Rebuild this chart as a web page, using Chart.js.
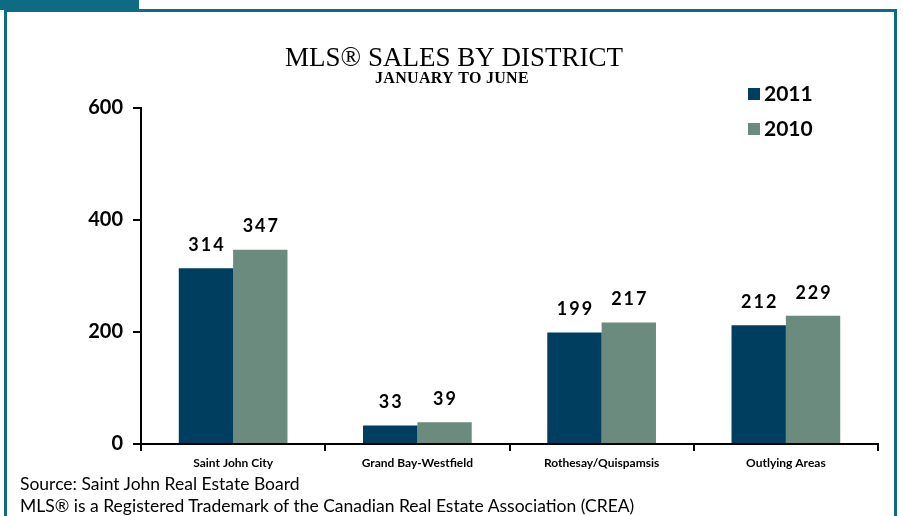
<!DOCTYPE html>
<html>
<head>
<meta charset="utf-8">
<script src="https://cdn.jsdelivr.net/npm/chart.js@4"></script>
<style>
  body { margin: 0; background: #fff; }
  #wrap { position: relative; width: 903px; height: 516px; overflow: hidden; }
  #tab { position: absolute; left: 0; top: 0; width: 139px; height: 10px; background: #0f6a84; }
  #frame { position: absolute; left: 4px; top: 9px; width: 893px; height: 520px;
           border: 3px solid #0f6a84; box-sizing: border-box; }
  canvas { position: absolute; left: 0; top: 0; }
  .foot { position: absolute; left: 20px; font-family: Lato, sans-serif; font-size: 17.5px; color: #000; }
</style>
</head>
<body>
<div id="wrap">
  <div id="tab"></div>
  <div id="frame"></div>
  <canvas id="chart" width="903" height="516"></canvas>
  <div class="foot" style="top:473px">Source: Saint John Real Estate Board</div>
  <div class="foot" style="top:495px">MLS® is a Registered Trademark of the Canadian Real Estate Association (CREA)</div>
</div>
<script>
// 데이터
var districts = ['Saint John City', 'Grand Bay-Westfield', 'Rothesay/Quispamsis', 'Outlying Areas'];
var sales2011 = [314, 33, 199, 212];
var sales2010 = [347, 39, 217, 229];
var yTicks = [0, 200, 400, 600];

// 제목 + 범례 + 값 라벨
var extras = {
	id: 'extras',
	afterDraw: function(chart) {
		var ctx = chart.ctx;
		ctx.save();
		ctx.fillStyle = '#000';
		ctx.textAlign = 'center';
		ctx.textBaseline = 'alphabetic';
		ctx.font = '27px "Liberation Serif", serif';
		ctx.fillText('MLS® SALES BY DISTRICT', 454, 66);
		ctx.letterSpacing = '0.3px';
		ctx.font = 'bold 16px "Liberation Serif", serif';
		ctx.fillText('JANUARY TO JUNE', 452, 83);
		ctx.letterSpacing = '0px';

		// 범례
		chart.data.datasets.forEach(function(ds, i) {
			var y = 88 + i * 35;
			ctx.fillStyle = ds.backgroundColor;
			ctx.fillRect(748, y, 12, 12);
			ctx.fillStyle = '#000';
			ctx.textAlign = 'left';
			ctx.textBaseline = 'middle';
			ctx.font = 'bold 21px Lato, sans-serif';
			ctx.fillText(ds.label, 764, y + 6);
		});

		// 값 라벨
		ctx.textAlign = 'center';
		ctx.textBaseline = 'middle';
		ctx.letterSpacing = '2px';
		ctx.font = 'bold 18px Lato, sans-serif';
		chart.data.datasets.forEach(function(ds, i) {
			chart.getDatasetMeta(i).data.forEach(function(bar, j) {
				ctx.fillText(ds.data[j], bar.x + 1, bar.y - 23);
			});
		});
		ctx.restore();
	}
};

var ctx = document.getElementById('chart').getContext('2d');
new Chart(ctx, {
	type: 'bar',
	data: {
		labels: districts,
		datasets: [{
			label: '2011',
			data: sales2011,
			backgroundColor: '#003e60'
		}, {
			label: '2010',
			data: sales2010,
			backgroundColor: '#6a8b7d'
		}]
	},
	options: {
		responsive: false,
		animation: false,
		layout: { padding: { left: 0, right: 25, top: 108, bottom: 0 } },
		plugins: { legend: { display: false }, tooltip: { enabled: false } },
		datasets: { bar: { barPercentage: 1, categoryPercentage: 0.59 } },
		scales: {
			x: {
				afterFit: function(s) { s.height = 72; },
				grid: { display: true, drawOnChartArea: false, color: '#000', lineWidth: 2, tickLength: 7, offset: true },
				border: { color: '#000', width: 2 },
				ticks: { color: '#000', font: { family: 'Lato', weight: 'bold', size: 12 }, padding: 5 }
			},
			y: {
				min: 0, max: 600,
				afterFit: function(s) { s.width = 141; },
				afterBuildTicks: function(s) { s.ticks = yTicks.map(function(v) { return { value: v }; }); },
				grid: { display: true, drawOnChartArea: false, color: '#000', lineWidth: 2, tickLength: 8 },
				border: { color: '#000', width: 2 },
				ticks: { color: '#000', font: { family: 'Lato', weight: 'bold', size: 20 }, padding: 10 }
			}
		}
	},
	plugins: [extras]
});
</script>
</body>
</html>
